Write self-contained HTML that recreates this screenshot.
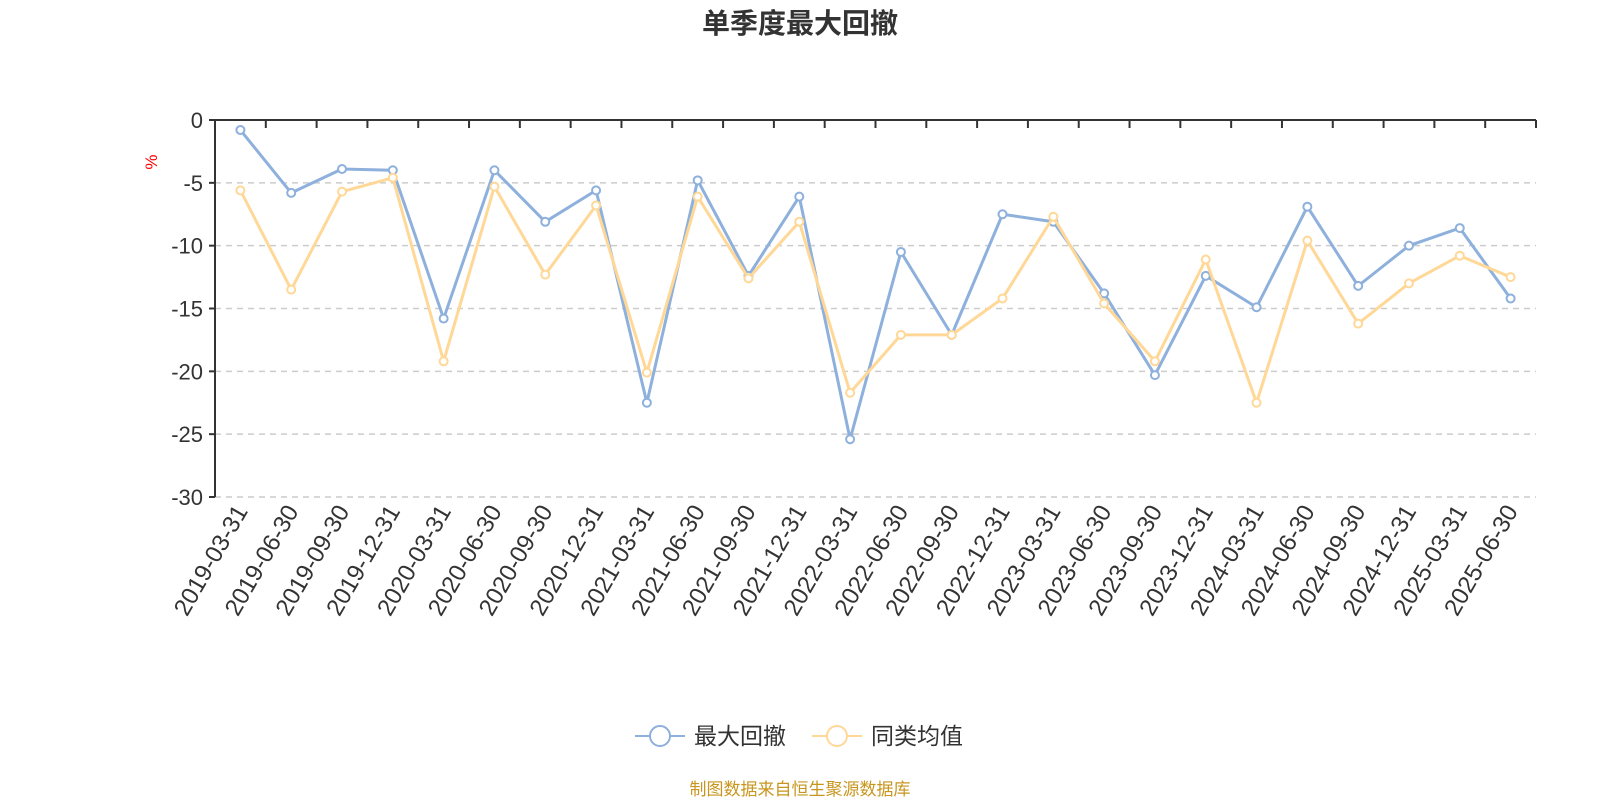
<!DOCTYPE html>
<html><head><meta charset="utf-8">
<style>
body{margin:0;background:#fff;}
svg{display:block;font-family:"Liberation Sans","Noto Sans CJK SC",sans-serif;}
</style></head>
<body>
<svg id="chart" width="1600" height="800" viewBox="0 0 1600 800">
<text x="800" y="33" text-anchor="middle" font-size="28" font-weight="bold" fill="#333">单季度最大回撤</text>
<text x="0" y="0" transform="translate(157,162) rotate(-90)" text-anchor="middle" font-size="17" fill="red">%</text>
<g id="grid"></g><g id="axes"></g><g id="series"></g>
<g>
<g>
<line x1="635" y1="736" x2="685" y2="736" stroke="#8eb0dc" stroke-width="2"/>
<circle cx="660" cy="736" r="10" fill="#fff" stroke="#8eb0dc" stroke-width="2"/>
<text x="694" y="744" font-size="23" fill="#333">最大回撤</text></g>
<g>
<line x1="812" y1="736" x2="862" y2="736" stroke="#ffd897" stroke-width="2"/>
<circle cx="837" cy="736" r="10" fill="#fff" stroke="#ffd897" stroke-width="2"/>
<text x="871" y="744" font-size="23" fill="#333">同类均值</text></g>
</g>
<text x="800" y="795" text-anchor="middle" font-size="17" fill="#c8961e">制图数据来自恒生聚源数据库</text>
</svg>
<script>
const categories=["2019-03-31","2019-06-30","2019-09-30","2019-12-31","2020-03-31","2020-06-30","2020-09-30","2020-12-31","2021-03-31","2021-06-30","2021-09-30","2021-12-31","2022-03-31","2022-06-30","2022-09-30","2022-12-31","2023-03-31","2023-06-30","2023-09-30","2023-12-31","2024-03-31","2024-06-30","2024-09-30","2024-12-31","2025-03-31","2025-06-30"];
const maxDrawdown=[-0.8,-5.8,-3.9,-4.0,-15.8,-4.0,-8.1,-5.6,-22.5,-4.8,-12.4,-6.1,-25.4,-10.5,-17.1,-7.5,-8.1,-13.8,-20.3,-12.4,-14.9,-6.9,-13.2,-10.0,-8.6,-14.2];
const peerAverage=[-5.6,-13.5,-5.7,-4.6,-19.2,-5.3,-12.3,-6.8,-20.1,-6.1,-12.6,-8.1,-21.7,-17.1,-17.1,-14.2,-7.7,-14.6,-19.2,-11.1,-22.5,-9.6,-16.2,-13.0,-10.8,-12.5];
const yTicks=[0,-5,-10,-15,-20,-25,-30];
const NS="http://www.w3.org/2000/svg";
const L=215,R=1536,T=120,B=497,yMin=-30,yMax=0;
const band=(R-L)/categories.length;
function xPos(i){return L+band*(i+0.5);}
function yPos(v){return T+(yMax-v)/(yMax-yMin)*(B-T);}
function mk(tag,attrs,parent){const e=document.createElementNS(NS,tag);for(const k in attrs)e.setAttribute(k,attrs[k]);parent.appendChild(e);return e;}
const grid=document.getElementById('grid'),axes=document.getElementById('axes'),series=document.getElementById('series');
yTicks.forEach(v=>{
  const y=yPos(v);
  if(v!==0){const g=mk('line',{x1:L,x2:R,y1:y,y2:y,stroke:'#ccc','stroke-width':1.5,'stroke-dasharray':'6,5'},grid);
  
  }
  const t=mk('line',{x1:L-6,x2:L,y1:y,y2:y,stroke:'#333','stroke-width':2},axes);
  
  
  const tx=mk('text',{x:L-12,y:y+8,'text-anchor':'end','font-size':22,fill:'#333'},axes);
  tx.textContent=v;
  
  
});
const ya=mk('line',{x1:L,x2:L,y1:T,y2:B,stroke:'#333','stroke-width':2},axes);


const xa=mk('line',{x1:L-6,x2:R,y1:T,y2:T,stroke:'#333','stroke-width':2},axes);


for(let i=0;i<=categories.length;i++){
  const x=L+band*i;
  const t=mk('line',{x1:x,x2:x,y1:T,y2:T+8,stroke:'#333','stroke-width':2},axes);
  
  
}
categories.forEach((c,i)=>{
  const x=xPos(i)+8,y=B+14;
  const t=mk('text',{x:x,y:y,'text-anchor':'end','font-size':24,fill:'#333',transform:`rotate(-60 ${x} ${y})`},axes);
  t.textContent=c;
  
  
});
function draw(vals,color,name){
  const pts=vals.map((v,i)=>xPos(i)+','+yPos(v)).join(' ');
  const pl=mk('polyline',{points:pts,fill:'none',stroke:color,'stroke-width':3,'stroke-linejoin':'round'},series);
  
  
  vals.forEach((v,i)=>{
    const c=mk('circle',{cx:xPos(i),cy:yPos(v),r:4,fill:'#fff',stroke:color,'stroke-width':2},series);
    
    
  });
}
draw(maxDrawdown,'#8eb0dc','max-drawdown');
draw(peerAverage,'#ffd897','peer-average');
</script>
</body></html>
